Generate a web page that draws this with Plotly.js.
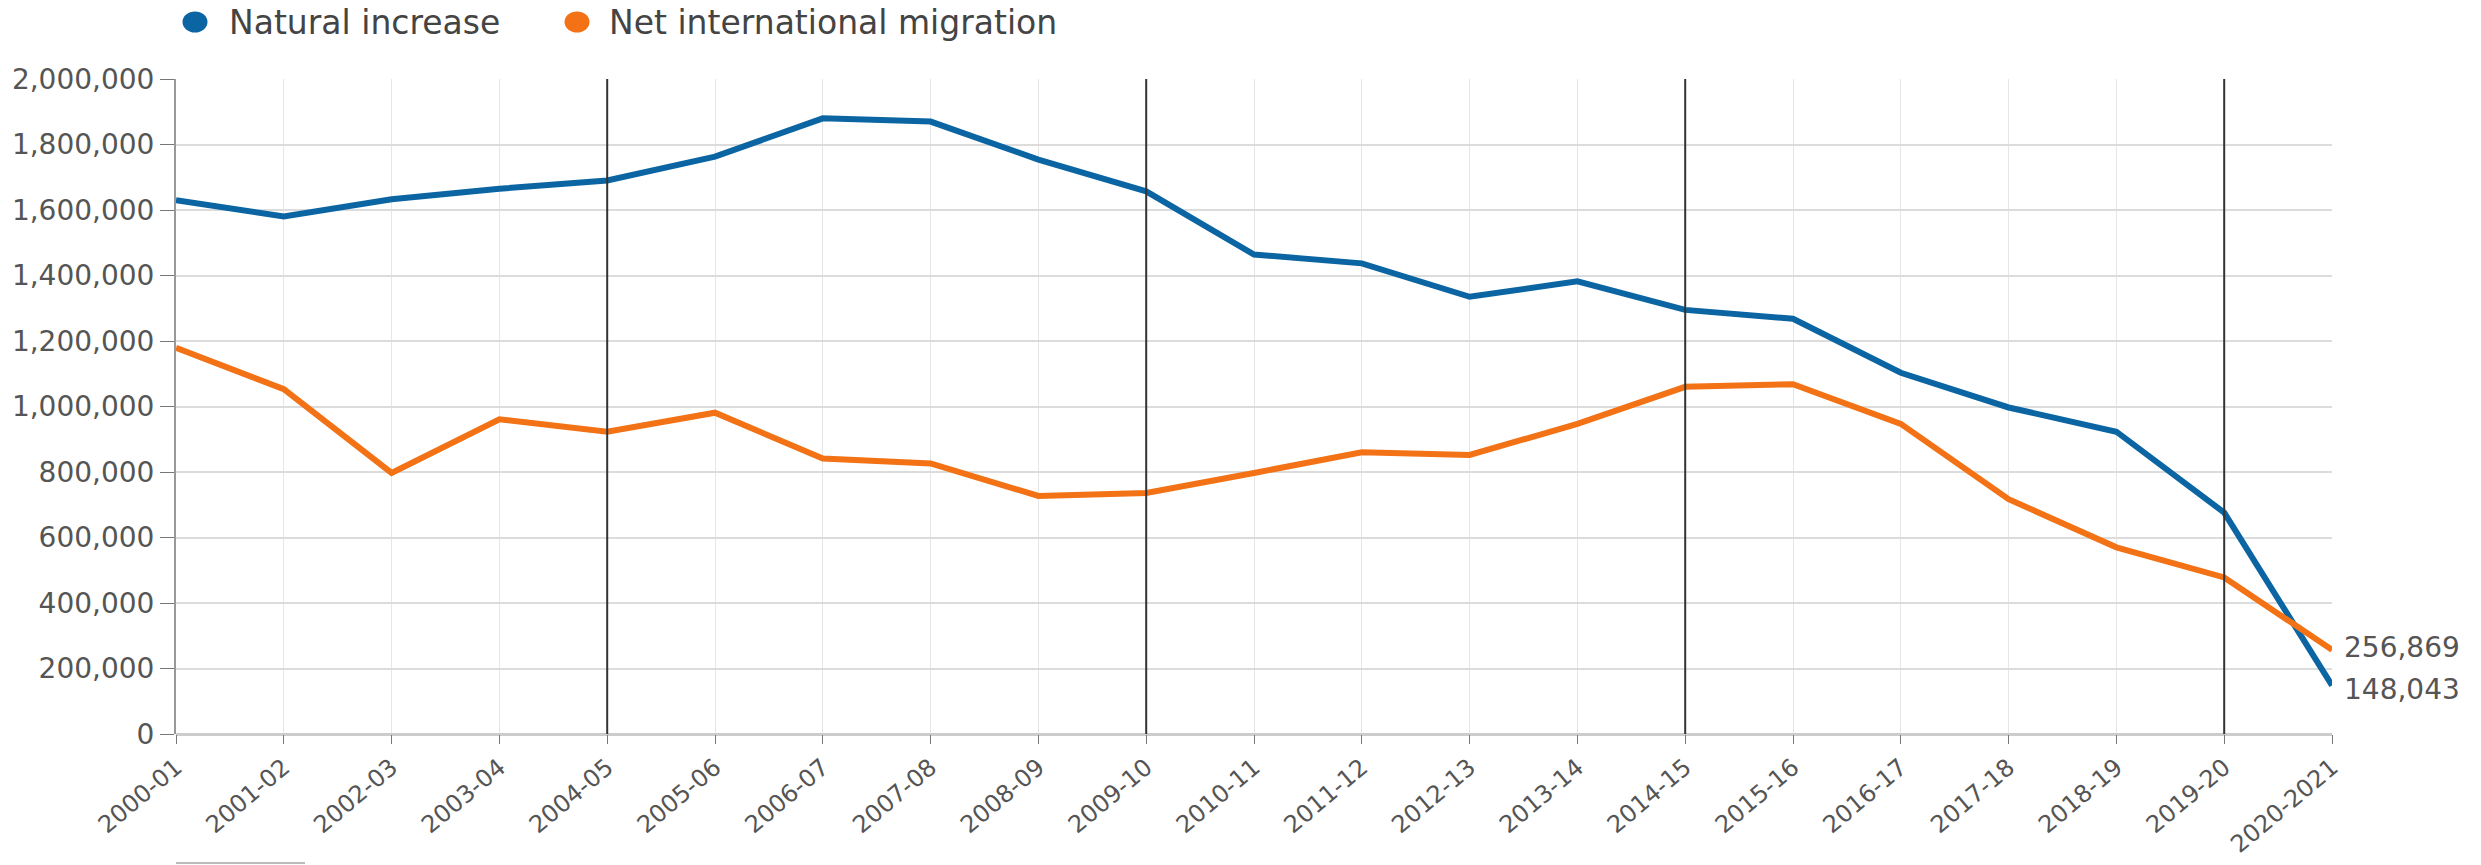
<!DOCTYPE html>
<html>
<head>
<meta charset="utf-8">
<script src="https://cdn.plot.ly/plotly-3.0.1.min.js"></script>
<style>html,body{margin:0;padding:0;background:#fff;}#chart{width:2481px;height:865px;}</style>
</head>
<body>
<div id="chart"></div>
<script>
const categories = ["2000-01","2001-02","2002-03","2003-04","2004-05","2005-06","2006-07","2007-08","2008-09","2009-10","2010-11","2011-12","2012-13","2013-14","2014-15","2015-16","2016-17","2017-18","2018-19","2019-20","2020-2021"];
const naturalIncrease = [1630000,1580000,1633000,1665000,1690000,1763000,1880000,1870000,1754000,1657000,1464000,1437000,1335000,1382000,1295000,1268000,1103000,997000,923000,676000,148043];
const netMigration = [1179000,1053000,797000,961000,923000,981000,841000,826000,727000,736000,797000,860000,852000,947000,1060000,1068000,947000,717000,570000,478000,256869];
const seriesNames = ["Natural increase","Net international migration"];
const markerCategories = ["2004-05","2009-10","2014-15","2019-20"];
const yTicks = [0,200000,400000,600000,800000,1000000,1200000,1400000,1600000,1800000,2000000];

const blue = "#0a65a2";
const orange = "#f27215";
const colors = [blue, orange];
const last = categories.length - 1;
const fmt = v => v.toLocaleString("en-US");
const FONT = "DejaVu Sans";

// page geometry (pixels)
const W = 2481, H = 865;
const M = {l: 176, r: 149, t: 79, b: 131};
const PW = W - M.l - M.r, PH = H - M.t - M.b;
const px2x = p => (p - M.l) / PW;
const px2y = p => (H - M.b - p) / PH;

const traces = [
  {x: categories, y: naturalIncrease, type: "scatter", mode: "lines", name: seriesNames[0],
   line: {color: blue, width: 6}},
  {x: categories, y: netMigration, type: "scatter", mode: "lines", name: seriesNames[1],
   line: {color: orange, width: 6}}
];

const shapes = markerCategories.map(c => ({
  type: "line", xref: "x", yref: "paper", x0: c, x1: c, y0: 0, y1: 1,
  line: {color: "#333", width: 2}
}));
shapes.push({type: "line", xref: "paper", yref: "paper", x0: px2x(176), x1: px2x(305), y0: px2y(863), y1: px2y(863),
  line: {color: "#bbb", width: 2}});

// legend: circle swatches + labels
const legendCircleX = [195, 577];
const legendTextX = [227, 607];
const legendY = 22;
const annotations = [];
seriesNames.forEach((n, i) => {
  shapes.push({type: "circle", xref: "paper", yref: "paper", xsizemode: "pixel", ysizemode: "pixel",
    xanchor: px2x(legendCircleX[i]), yanchor: px2y(legendY), x0: -12.5, x1: 12.5, y0: -10.5, y1: 10.5,
    fillcolor: colors[i], line: {width: 0}});
  annotations.push({xref: "paper", yref: "paper", x: px2x(legendTextX[i]), y: px2y(legendY + 1), text: n,
    xanchor: "left", yanchor: "middle", showarrow: false, font: {family: FONT, size: 33, color: "#444"}});
});

annotations.push(
  {x: categories[last], y: netMigration[last], text: fmt(netMigration[last]), xanchor: "left", yanchor: "middle",
   xshift: 10, yshift: 2, showarrow: false, font: {family: FONT, size: 28, color: "#555"}},
  {x: categories[last], y: naturalIncrease[last], text: fmt(naturalIncrease[last]), xanchor: "left", yanchor: "middle",
   xshift: 10, yshift: -4, showarrow: false, font: {family: FONT, size: 28, color: "#555"}}
);

const layout = {
  width: W, height: H,
  margin: M,
  paper_bgcolor: "#fff", plot_bgcolor: "#fff",
  font: {family: FONT, color: "#555"},
  showlegend: false,
  xaxis: {
    type: "category", range: [0, last], tickangle: -40,
    showgrid: true, gridcolor: "#e6e6e6", gridwidth: 1,
    ticks: "outside", ticklen: 9, tickcolor: "#777", tickwidth: 1,
    tickfont: {family: FONT, size: 24, color: "#555"},
    showline: false, zeroline: false
  },
  yaxis: {
    range: [0, 2000000], tickvals: yTicks, ticktext: yTicks.map(fmt),
    showgrid: true, gridcolor: "#dcdcdc", gridwidth: 2,
    ticks: "outside", ticklen: 14, tickcolor: "#777",
    showline: true, linecolor: "#999", linewidth: 2,
    zeroline: true, zerolinecolor: "#ccc", zerolinewidth: 3,
    tickfont: {family: FONT, size: 28, color: "#555"}
  },
  shapes: shapes,
  annotations: annotations
};

Plotly.newPlot("chart", traces, layout, {displayModeBar: false, staticPlot: true});
</script>
</body>
</html>
